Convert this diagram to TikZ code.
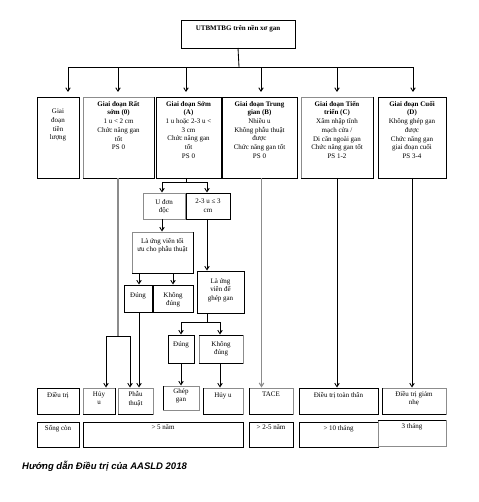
\documentclass[tikz,border=0pt]{standalone}
\usepackage{fontspec}
\setmainfont{Liberation Serif}
\newfontfamily\capfont{Liberation Sans}
\usetikzlibrary{arrows.meta}
\newcommand\mkbox[6][bx]{\node[#1,minimum width={#4pt-#2pt},minimum height={#5pt-#3pt}] (#6) at ({(#2+#4)/2},{(#3+#5)/2}) {};}
\begin{document}
\begin{tikzpicture}[x=1pt,y=-1pt,
 bx/.style={draw=black,line width=0.85pt,inner sep=0pt,outer sep=0pt},
 lbx/.style={draw=black!45,line width=0.85pt,inner sep=0pt,outer sep=0pt},
 txt/.style={font=\fontsize{7}{8.7}\selectfont,align=center,inner sep=0pt},
 ln/.style={draw=black,line width=0.85pt},
 gln/.style={draw=black!45,line width=1.1pt},
 arr/.style={-{Straight Barb[length=3.5pt,width=4.5pt]},shorten >=0.5pt},
]
\useasboundingbox[fill=white] (0,0) rectangle (478,502);

% top
\mkbox{181}{20}{295}{48}{T}
\node[txt,font=\fontsize{7}{8}\selectfont\bfseries,anchor=north] (Tt) at ([yshift=-5pt]T.north) {UTBMTBG trên nền xơ gan};

% stages
\mkbox{37}{97}{79}{178}{S1}
\mkbox[lbx]{83}{97}{154}{178}{S2}
\mkbox{156}{97}{221}{178}{S3}
\mkbox{222}{97}{297}{178}{S4}
\mkbox[lbx]{301}{97}{373}{178}{S5}
\mkbox{378}{97}{446}{178}{S6}
\draw[ln] (S2.north east) -- (S2.south east) -- (S2.south west);
\draw[ln] (S5.north east) -- (S5.south east) -- (S5.south west);

\node[txt,anchor=north] (S1t) at ([yshift=-12pt]S1.north) {Giai\\đoạn\\tiền\\lượng};
\node[txt,anchor=north] (S2t) at ([yshift=-4pt]S2.north) {\textbf{Giai đoạn Rất}\\\textbf{sớm (0)}\\1 u < 2 cm\\Chức năng gan\\tốt\\PS 0};
\node[txt,anchor=north] (S3t) at ([yshift=-4pt]S3.north) {\textbf{Giai đoạn Sớm}\\\textbf{(A)}\\1 u hoặc 2-3 u <\\3 cm\\Chức năng gan\\tốt\\PS 0};
\node[txt,anchor=north] (S4t) at ([yshift=-4pt]S4.north) {\textbf{Giai đoạn Trung}\\\textbf{gian (B)}\\Nhiều u\\Không phẫu thuật\\được\\Chức năng gan tốt\\PS 0};
\node[txt,anchor=north] (S5t) at ([yshift=-4pt]S5.north) {\textbf{Giai đoạn Tiến}\\\textbf{triển (C)}\\Xâm nhập tĩnh\\mạch cửa /\\Di căn ngoài gan\\Chức năng gan tốt\\PS 1-2};
\node[txt,anchor=north] (S6t) at ([yshift=-4pt]S6.north) {\textbf{Giai đoạn Cuối}\\\textbf{(D)}\\Không ghép gan\\được\\Chức năng gan\\giai đoạn cuối\\PS 3-4};

% middle
\mkbox[lbx]{143}{193}{185}{219}{U1}
\mkbox{186}{193}{230}{219}{U2}
\mkbox[lbx]{132}{232}{193}{273}{L1}
\draw[ln] (L1.north east) -- (L1.south east) -- (L1.south west);
\mkbox{124}{285}{152}{312}{D1}
\mkbox{153}{285}{193}{312}{K1}
\mkbox{197}{271}{244}{313}{L2}
\mkbox{168}{335}{194}{363}{D2}
\mkbox[lbx]{199}{335}{243}{363}{K2}
\draw[ln] (K2.north west) -- (K2.north east);
\draw[ln] (K2.south west) -- (K2.south east);

\node[txt,anchor=north] (U1t) at ([yshift=-6pt]U1.north) {U đơn\\độc};
\node[txt,anchor=north] (U2t) at ([yshift=-6pt]U2.north) {2-3 u ≤ 3\\cm};
\node[txt,anchor=north] (L1t) at ([yshift=-6pt]L1.north) {Là ứng viên tối\\ưu cho phẫu thuật};
\node[txt,anchor=north] (D1t) at ([yshift=-7pt]D1.north) {Đúng};
\node[txt,anchor=north] (K1t) at ([yshift=-7pt]K1.north) {Không\\đúng};
\node[txt,anchor=north] (L2t) at ([yshift=-7pt]L2.north) {Là ứng\\viên để\\ghép gan};
\node[txt,anchor=north] (D2t) at ([yshift=-6pt]D2.north) {Đúng};
\node[txt,anchor=north] (K2t) at ([yshift=-6pt]K2.north) {Không\\đúng};

% treatment row
\mkbox{37}{388}{79}{414}{R0}
\mkbox[lbx]{83}{388}{115}{414}{R1}
\mkbox[lbx]{118}{388}{153}{414}{R2}
\mkbox[lbx]{163}{386}{199}{410}{R3}
\mkbox[lbx]{203}{388}{243}{414}{R4}
\mkbox[lbx]{249}{388}{293}{414}{R5}
\mkbox{299}{388}{378}{414}{R6}
\mkbox[lbx]{382}{388}{446}{414}{R7}
\draw[ln] (R1.north east) -- (R1.south east) -- (R1.south west);
\draw[ln] (R2.south east) -- (R2.south west);
\draw[ln] (R3.north west) -- (R3.south west);
\draw[ln] (R4.north west) -- (R4.south west) -- (R4.south east);
\draw[ln] (R5.north west) -- (R5.south west) -- (R5.south east);
\draw[ln] (R7.north west) -- (R7.south west) -- (R7.south east);

\node[txt,anchor=north] (R0t) at ([yshift=-4pt]R0.north) {Điều trị};
\node[txt,anchor=north] (R1t) at ([yshift=-3pt]R1.north) {Hủy\\u};
\node[txt,anchor=north] (R2t) at ([yshift=-3pt]R2.north) {Phẫu\\thuật};
\node[txt,anchor=north] (R3t) at ([yshift=-2pt]R3.north) {Ghép\\gan};
\node[txt,anchor=north] (R4t) at ([yshift=-4pt]R4.north) {Hủy u};
\node[txt,anchor=north] (R5t) at ([yshift=-4pt]R5.north) {TACE};
\node[txt,anchor=north] (R6t) at ([yshift=-4pt]R6.north) {Điều trị toàn thân};
\node[txt,anchor=north] (R7t) at ([yshift=-3pt]R7.north) {Điều trị giảm\\nhẹ};

% survival row
\mkbox{37}{422}{79}{447}{V0}
\mkbox{83}{422}{243}{447}{V1}
\mkbox{249}{422}{293}{447}{V2}
\mkbox{299}{422}{378}{447}{V3}
\mkbox[lbx]{378}{420}{446}{446}{V4}
\draw[ln] (V4.north west) -- (V4.north east);
\node[txt,anchor=north] (V0t) at ([yshift=-3pt]V0.north) {Sống còn};
\node[txt,anchor=north] (V1t) at ([yshift=-3pt]V1.north) {> 5 năm};
\node[txt,anchor=north] (V2t) at ([yshift=-3pt]V2.north) {> 2-5 năm};
\node[txt,anchor=north] (V3t) at ([yshift=-3pt]V3.north) {> 10 tháng};
\node[txt,anchor=north] (V4t) at ([yshift=-3pt]V4.north) {3 tháng};

% connectors top
\coordinate (bus) at (239,67);
\draw[ln] (T.south) -- (bus);
\draw[ln,arr,shorten >=5pt] (bus) -| ([xshift=10pt]S1.north);
\draw[ln,arr,shorten >=5pt] (bus) -| ([xshift=-0.5pt]S2.north);
\draw[ln,arr,shorten >=5pt] (bus) -| ([xshift=-2.5pt]S3.north);
\draw[ln,arr,shorten >=5pt] (bus) -| ([xshift=1.5pt]S4.north);
\draw[ln,arr,shorten >=5pt] (bus) -| (S5.north);
\draw[ln,arr,shorten >=5pt] (bus) -| ([xshift=1pt]S6.north);

% early stage 0
\coordinate (j2) at (118,336);
\draw[gln] ([xshift=-0.5pt]S2.south) -- (j2);
\draw[ln,arr] (j2) -| ([xshift=7pt]R1.north);
\draw[ln,arr] (j2) -| ([xshift=-5.5pt]R2.north);

% stage A
\coordinate (j3) at (186,182);
\draw[ln] ([xshift=-2.5pt]S3.south) -- (j3);
\draw[ln,arr] (j3) -| ([xshift=-2pt]U1.north);
\draw[ln,arr] (j3) -| ([xshift=-1pt]U2.north);
\draw[ln,arr] ([xshift=-2pt]U1.south) -- ([xshift=-2pt]U1.south |- L1.north);
\draw[ln,arr] ([xshift=1pt]D1.north |- L1.south) -- ([xshift=1pt]D1.north);
\draw[ln,arr] (K1.north |- L1.south) -- (K1.north);
\draw[ln,arr] ([xshift=1pt]D1.south) -- ([xshift=1pt]D1.south |- R2.north);
\draw[ln,arr] ([xshift=-1pt]U2.south) -- ([xshift=-1pt]U2.south |- L2.north);
\coordinate (j4) at (207,322);
\draw[ln] ([xshift=-13.5pt]L2.south) -- (j4);
\draw[ln,arr] (j4) -| (D2.north);
\draw[ln,arr] (j4) -| ([xshift=-1pt]K2.north);
\draw[ln,arr] (D2.south) -- (D2.south |- R3.north);
\draw[ln,arr] ([xshift=-1pt]K2.south) -- ([xshift=-1pt]K2.south |- R4.north);

% stages B, C, D
\draw[gln,arr] ([xshift=2pt]S4.south) -- ([xshift=2pt]S4.south |- R5.north);
\draw[ln,arr] (S5.south) -- (S5.south |- R6.north);
\draw[ln,arr] (S6.south) -- (S6.south |- R7.north);

% caption
\node[font=\capfont\bfseries\itshape\fontsize{9.5}{11}\selectfont,anchor=west,inner sep=0pt] (cap) at (22,466) {Hướng dẫn Điều trị của AASLD 2018};
\end{tikzpicture}
\end{document}
